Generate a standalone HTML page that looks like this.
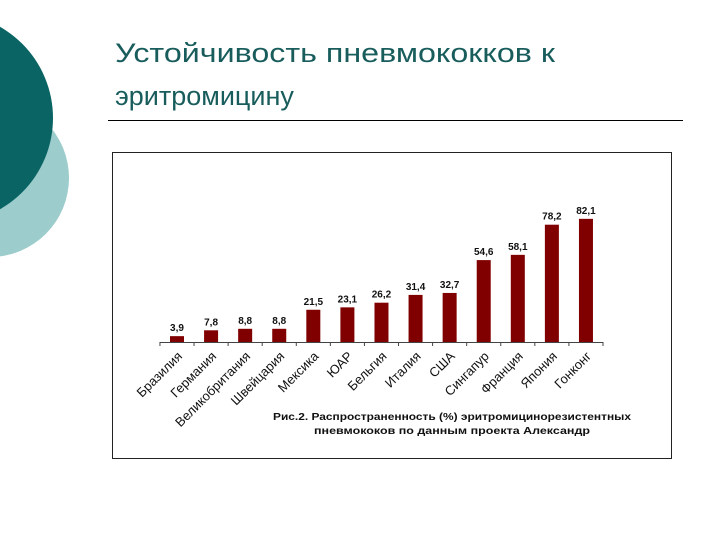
<!DOCTYPE html>
<html><head><meta charset="utf-8"><style>
html,body{margin:0;padding:0;background:#fff;}
svg{display:block;}
</style></head><body>
<svg width="720" height="540" viewBox="0 0 720 540" xmlns="http://www.w3.org/2000/svg">
<circle cx="-10" cy="178" r="79" fill="#9ccccc"/>
<circle cx="-52" cy="118" r="105" fill="#0a6464"/>
<g font-family="Liberation Sans, sans-serif" font-size="27" fill="#185c5c">
<text x="115" y="62" textLength="440" lengthAdjust="spacingAndGlyphs">Устойчивость пневмококков к</text>
<text x="115" y="105">эритромицину</text>
</g>
<line x1="108" y1="120.5" x2="683" y2="120.5" stroke="#000" stroke-width="1"/>
<rect x="112.5" y="152.5" width="559" height="306" fill="#fff" stroke="#222" stroke-width="1"/>
<g id="chart"></g>
<g font-family="Liberation Sans, sans-serif" font-size="10.5" font-weight="bold" fill="#111" text-anchor="middle">
<text x="452" y="420" textLength="358" lengthAdjust="spacingAndGlyphs">Рис.2. Распространенность (%) эритромицинорезистентных</text>
<text x="452" y="434" textLength="276" lengthAdjust="spacingAndGlyphs">пневмококов по данным проекта Александр</text>
</g>
</svg>
<script>
const categories=["Бразилия","Германия","Великобритания","Швейцария","Мексика","ЮАР","Бельгия","Италия","США","Сингапур","Франция","Япония","Гонконг"];
const values=[3.9,7.8,8.8,8.8,21.5,23.1,26.2,31.4,32.7,54.6,58.1,78.2,82.1];
const valueLabels=["3,9","7,8","8,8","8,8","21,5","23,1","26,2","31,4","32,7","54,6","58,1","78,2","82,1"];
const NS="http://www.w3.org/2000/svg";
const g=document.getElementById('chart');
const x0=177,step=34.08,base=342,scale=1.5,bw=14;
const xPos=i=>x0+i*step;
const yPos=v=>base-v*scale;
function mk(t,a){const e=document.createElementNS(NS,t);for(const k in a)e.setAttribute(k,a[k]);g.appendChild(e);return e;}
const ax=mk('line',{x1:160,y1:base+0.5,x2:603,y2:base+0.5,stroke:'#444','stroke-width':1});


for(let i=0;i<=categories.length;i++){
  const tx=xPos(i)-step/2;
  const t=mk('line',{x1:tx,y1:base,x2:tx,y2:base+4,stroke:'#444','stroke-width':1});
  
  
}
categories.forEach((c,i)=>{
  const cx=xPos(i),top=yPos(values[i]);
  const r=mk('rect',{x:cx-bw/2,y:top,width:bw,height:base-top,fill:'#800000'});
  
  
  const v=mk('text',{x:cx,y:top-5,'text-anchor':'middle','font-family':'Liberation Sans, sans-serif','font-size':10,'font-weight':'bold',fill:'#111'});
  v.textContent=valueLabels[i];
  
  
  const l=mk('text',{x:cx+6,y:357,'text-anchor':'end','font-family':'Liberation Sans, sans-serif','font-size':13,fill:'#111',transform:`rotate(-45 ${cx+6} 357)`});
  l.textContent=c;
  
  
});
</script>
</body></html>
